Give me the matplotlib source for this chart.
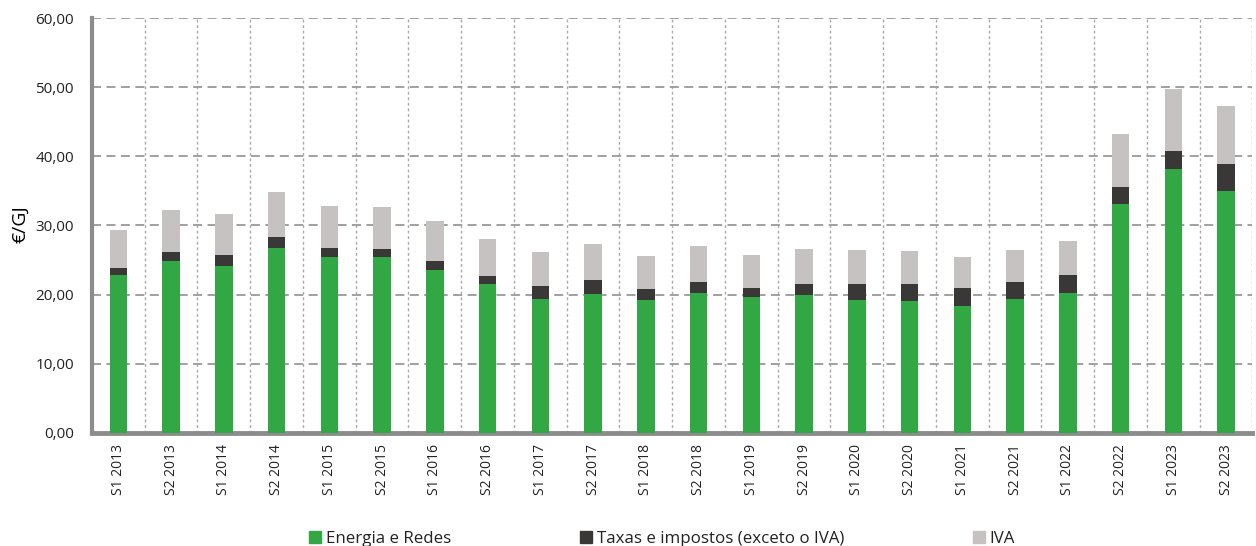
import matplotlib
matplotlib.use("Agg")
import matplotlib.pyplot as plt
from matplotlib.patches import Patch
import numpy as np

periods = ["S1 2013", "S2 2013", "S1 2014", "S2 2014", "S1 2015", "S2 2015",
           "S1 2016", "S2 2016", "S1 2017", "S2 2017", "S1 2018", "S2 2018",
           "S1 2019", "S2 2019", "S1 2020", "S2 2020", "S1 2021", "S2 2021",
           "S1 2022", "S2 2022", "S1 2023", "S2 2023"]

energia_redes = [22.9, 24.9, 24.2, 26.8, 25.5, 25.4, 23.5, 21.6, 19.3, 20.1,
                 19.2, 20.2, 19.6, 19.9, 19.2, 19.1, 18.4, 19.4, 20.3, 33.1,
                 38.2, 35.0]
taxas = [0.9, 1.2, 1.5, 1.5, 1.2, 1.2, 1.3, 1.1, 1.9, 2.0,
         1.6, 1.7, 1.3, 1.7, 2.4, 2.5, 2.5, 2.4, 2.5, 2.4,
         2.6, 3.9]
iva = [5.5, 6.1, 5.9, 6.5, 6.1, 6.1, 5.8, 5.3, 4.9, 5.2,
       4.8, 5.1, 4.9, 5.0, 4.8, 4.7, 4.5, 4.7, 5.0, 7.8,
       8.9, 8.4]

yticks = [0, 10, 20, 30, 40, 50, 60]
ytick_labels = ["0,00", "10,00", "20,00", "30,00", "40,00", "50,00", "60,00"]

c_green = "#31a843"
c_dark = "#3a3836"
c_gray = "#c6c2c1"

plt.rcParams["font.family"] = ["Open Sans", "DejaVu Sans"]

fig = plt.figure(figsize=(12.56, 5.46), dpi=100)
ax = fig.add_axes([0.0732, 0.207, 0.924, 0.760])

x = np.arange(len(periods))
e = np.array(energia_redes)
t = np.array(taxas)
v = np.array(iva)
w = 0.33
ax.bar(x, e, width=w, color=c_green, zorder=3)
ax.bar(x, t, width=w, bottom=e, color=c_dark, zorder=3)
ax.bar(x, v, width=w, bottom=e + t, color=c_gray, zorder=3)

ax.set_xlim(-0.5, len(periods) - 0.5)
ax.set_ylim(0, 60)
ax.set_yticks(yticks)
ax.set_yticklabels(ytick_labels, fontsize=11, color="#222222")
ax.set_xticks(x)
ax.set_xticklabels(periods, rotation=90, fontsize=10, color="#222222")
ax.tick_params(axis="both", length=0)
ax.tick_params(axis="x", pad=8)
ax.tick_params(axis="y", pad=13)

# category separators and value grid
ax.set_xticks(np.arange(-0.5, len(periods) + 0.5, 1.0)[1:], minor=True)
ax.tick_params(axis="x", which="minor", length=0)
ax.grid(axis="x", which="minor", color="#a8a8a8", linestyle=(0, (2, 2)), linewidth=1.0, zorder=0)
ax.grid(axis="y", which="major", color="#999999", linestyle=(0, (5, 3)), linewidth=1.3, zorder=0)
ax.grid(axis="x", which="major", visible=False)

for s in ["top", "right"]:
    ax.spines[s].set_visible(False)
ax.spines["left"].set_color("#8c8c8c")
ax.spines["left"].set_linewidth(3)
ax.spines["bottom"].set_color("#8c8c8c")
ax.spines["bottom"].set_linewidth(3.5)

fig.text(0.016, 0.59, "€/GJ", rotation=90, fontsize=14, ha="center", va="center", color="#000000")

handles = [Patch(color=c_green), Patch(color=c_dark), Patch(color=c_gray)]
labels = ["Energia e Redes", "Taxas e impostos (exceto o IVA)", "IVA"]
fig.legend(handles, labels, loc="lower center", bbox_to_anchor=(0.527, -0.03), ncol=3,
           frameon=False, fontsize=12.2, handlelength=0.7, handleheight=0.7,
           handletextpad=0.3, columnspacing=7.6, labelcolor="#222222")

fig.savefig("out.png", dpi=100)
